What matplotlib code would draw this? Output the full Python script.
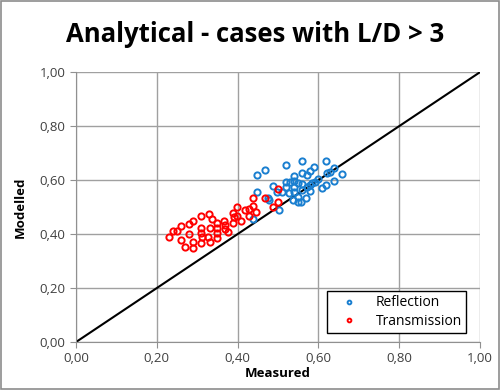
import matplotlib.pyplot as plt
from matplotlib.patches import Rectangle

# Reflection cases (measured, modelled)
refl_x = [0.438, 0.448, 0.448, 0.468, 0.475, 0.478, 0.488, 0.498, 0.502, 0.510,
          0.520, 0.520, 0.520, 0.527, 0.530, 0.540, 0.540, 0.540, 0.540, 0.537,
          0.550, 0.550, 0.550, 0.559, 0.559, 0.559, 0.559, 0.557, 0.569, 0.572,
          0.579, 0.579, 0.579, 0.572, 0.584, 0.589, 0.592, 0.599, 0.609, 0.619,
          0.619, 0.621, 0.629, 0.639, 0.639, 0.658]
refl_y = [0.456, 0.556, 0.619, 0.637, 0.533, 0.526, 0.578, 0.556, 0.489, 0.556,
          0.656, 0.593, 0.574, 0.552, 0.593, 0.615, 0.596, 0.574, 0.556, 0.526,
          0.537, 0.519, 0.589, 0.670, 0.626, 0.585, 0.563, 0.519, 0.533, 0.619,
          0.633, 0.581, 0.559, 0.574, 0.589, 0.648, 0.593, 0.604, 0.570, 0.670,
          0.581, 0.626, 0.630, 0.644, 0.596, 0.622]

# Transmission cases (measured, modelled)
trans_x = [0.230, 0.240, 0.250, 0.260, 0.260, 0.270, 0.280, 0.280, 0.290, 0.290,
           0.290, 0.309, 0.309, 0.309, 0.312, 0.309, 0.329, 0.332, 0.337, 0.327,
           0.332, 0.349, 0.349, 0.349, 0.349, 0.366, 0.369, 0.369, 0.376, 0.389,
           0.391, 0.389, 0.399, 0.399, 0.408, 0.418, 0.428, 0.428, 0.438, 0.438,
           0.446, 0.468, 0.488, 0.500, 0.500]
trans_y = [0.389, 0.411, 0.411, 0.430, 0.378, 0.352, 0.437, 0.400, 0.448, 0.370,
           0.348, 0.467, 0.422, 0.404, 0.389, 0.367, 0.474, 0.422, 0.456, 0.389,
           0.370, 0.441, 0.422, 0.404, 0.385, 0.448, 0.433, 0.419, 0.407, 0.478,
           0.463, 0.441, 0.500, 0.467, 0.448, 0.489, 0.493, 0.467, 0.533, 0.504,
           0.481, 0.533, 0.500, 0.567, 0.519]

ticks = [0.0, 0.2, 0.4, 0.6, 0.8, 1.0]
tick_labels = ['0,00', '0,20', '0,40', '0,60', '0,80', '1,00']

plt.rcParams['font.family'] = ['Open Sans', 'DejaVu Sans']

fig = plt.figure(figsize=(5, 3.9), dpi=100)
ax = fig.add_axes([0.152, 0.123, 0.808, 0.692])

ax.plot([0, 1], [0, 1], color='black', lw=1.5, zorder=2)
ax.plot(refl_x, refl_y, 'o', mfc='none', mec='#1a7fd0', mew=1.4, ms=4.5,
        ls='none', label='Reflection', zorder=3)
ax.plot(trans_x, trans_y, 'o', mfc='none', mec='#ff0000', mew=1.4, ms=4.5,
        ls='none', label='Transmission', zorder=3)

ax.set_xlim(0, 1)
ax.set_ylim(0, 1)
ax.set_xticks(ticks)
ax.set_yticks(ticks)
ax.set_xticklabels(tick_labels)
ax.set_yticklabels(tick_labels)
ax.grid(True, color='#a0a0a0', lw=1)
ax.set_axisbelow(True)
for s in ['top', 'right']:
    ax.spines[s].set_visible(False)
for s in ['left', 'bottom']:
    ax.spines[s].set_color('#909090')
ax.tick_params(length=4, color='#909090', labelsize=9.5, labelcolor='#404040')

ax.set_xlabel('Measured', fontsize=9.5, fontweight='bold', labelpad=1)
ax.set_ylabel('Modelled', fontsize=9.5, fontweight='bold', labelpad=9)
fig.suptitle('Analytical - cases with L/D > 3', x=0.51, y=0.945,
             fontsize=18.5, fontweight='bold')

leg = ax.legend(loc='lower right', bbox_to_anchor=(0.965, 0.033),
                fontsize=10, fancybox=False, framealpha=1,
                edgecolor='black', markerscale=0.6, handletextpad=0.6,
                handlelength=2.6, borderpad=0.3, labelspacing=0.25,
                borderaxespad=0)
leg.get_frame().set_linewidth(1)

fig.patches.append(Rectangle((0.002, 0.002), 0.996, 0.995, transform=fig.transFigure,
                             fill=False, edgecolor='#8c8c8c', lw=1.2))

plt.savefig('out.png')
